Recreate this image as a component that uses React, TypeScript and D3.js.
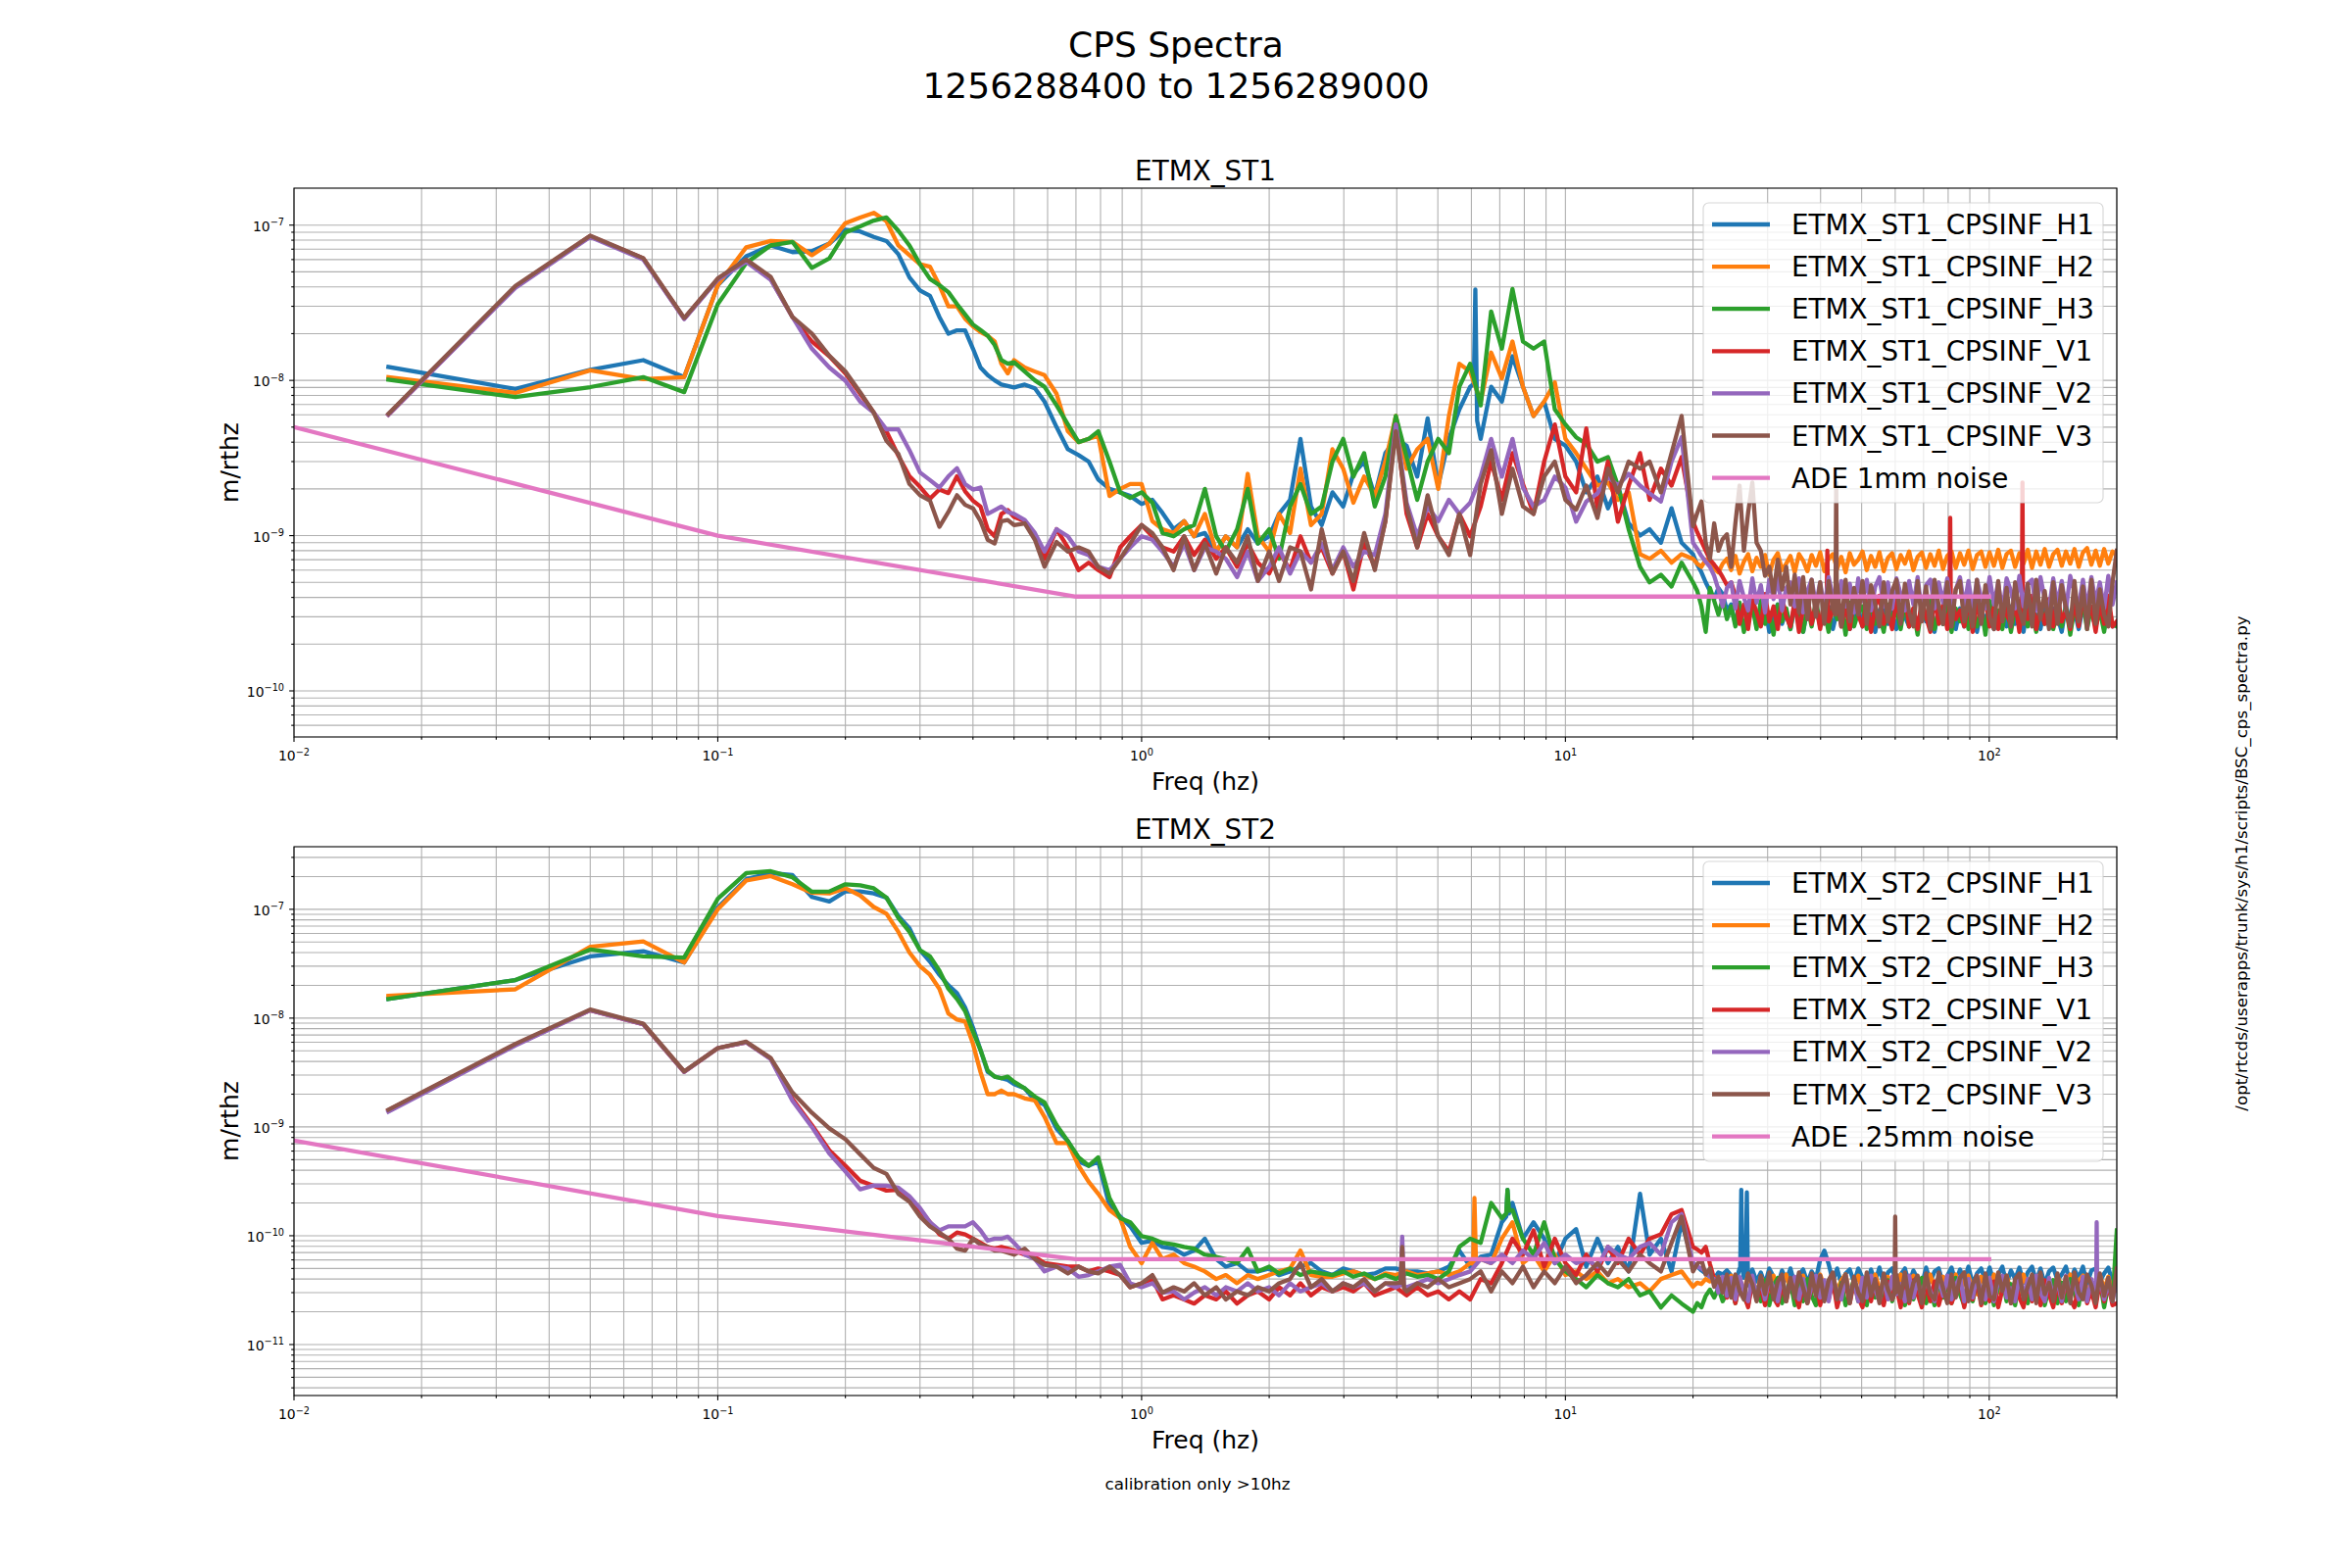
import React from 'react';
import * as d3 from 'd3';

// ---------------- DATA (values in units of 1e-10 m/rthz) ----------------
const UNIT = 1e-10;

const FREQ_LOW = [0.0167, 0.0333, 0.05, 0.0667, 0.0833, 0.1, 0.1167, 0.1333, 0.15, 0.1667,
  0.1833, 0.2, 0.2167, 0.2333, 0.25, 0.2667, 0.2833, 0.3, 0.3167, 0.3333,
  0.35, 0.3667, 0.3833, 0.4, 0.4167, 0.4333, 0.45, 0.4667, 0.4833, 0.5];
const FREQ_MID = [0.53, 0.56, 0.59, 0.63, 0.67, 0.71, 0.75, 0.79, 0.84, 0.89, 0.94];
const FREQ_HIGH = [1.0, 1.06, 1.12, 1.19, 1.26, 1.33, 1.41, 1.5, 1.58, 1.68, 1.78, 1.88,
  2.0, 2.11, 2.24, 2.37, 2.51, 2.66, 2.82, 2.99, 3.16, 3.35, 3.55, 3.76,
  3.98, 4.22, 4.47, 4.73, 5.01, 5.31, 5.62, 5.96, 6.31, 6.68, 7.08, 7.5,
  7.94, 8.41, 8.91, 9.44,
  10.0, 10.6, 11.2, 11.9, 12.6, 13.3, 14.1, 15.0, 15.8, 16.8, 17.8, 18.8];
const FREQ_BAND = [
  20.0, 20.47, 20.94, 21.43, 21.93, 22.44, 22.96, 23.5, 24.05, 24.61,
  25.18, 25.76, 26.37, 26.98, 27.61, 28.25, 28.91, 29.58, 30.27, 30.98,
  31.7, 32.44, 33.19, 33.96, 34.76, 35.57, 36.39, 37.24, 38.11, 39.0,
  39.91, 40.83, 41.79, 42.76, 43.76, 44.77, 45.82, 46.88, 47.98, 49.09,
  50.24, 51.41, 52.61, 53.83, 55.08, 56.37, 57.68, 59.02, 60.4, 61.81,
  63.25, 64.72, 66.23, 67.77, 69.35, 70.96, 72.62, 74.31, 76.04, 77.81,
  79.62, 81.48, 83.37, 85.32, 87.3, 89.34, 91.42, 93.55, 95.73, 97.96,
  100.2, 102.6, 105.0, 107.4, 109.9, 112.5, 115.1, 117.8, 120.5, 123.3,
  126.2, 129.1, 132.1, 135.2, 138.4, 141.6, 144.9, 148.3, 151.7, 155.3,
  158.9, 162.6, 166.4, 170.2, 174.2, 178.3, 182.4, 186.7, 191.0, 195.4,
  200];
const FREQ_SEGMENTS = [FREQ_LOW, FREQ_MID, FREQ_HIGH, FREQ_BAND];

// ---- ETMX_ST1 ----
const ST1_H1 = [
  [122, 88, 117, 135, 105, 410, 630, 740, 670, 680, 760, 935, 910, 840, 790, 650, 460, 380, 350, 256, 200, 210, 210, 160, 121, 108, 100, 94, 92, 90],
  [94, 89, 73, 50, 36, 33, 30, 23, 20, 19, 18],
  [16, 17, 14, 11, 12.4, 9.9, 10.4, 7.9, 9.9, 8.4, 11, 8.9,
   9.9, 13.8, 17, 42, 15.4, 11.7, 19, 15.4, 25, 30, 18, 34,
   42, 38, 24, 57, 21, 42, 65, 91, 42, 91, 73, 143,
   91, 59, 73, 42,
   38, 30, 19, 24, 15, 21, 12, 10, 11, 9, 15, 9],
  [7.6, 6.5, 5.8, 5.0, 4.4, 3.9, 4.6, 4.2, 3.3, 3.6,
   2.7, 3.4, 2.5, 3.1, 3.6, 2.6, 2.9, 3.5, 2.4, 3.2,
   3.6, 2.7, 3.3, 2.5, 3.5, 3.0, 2.4, 3.4, 2.8, 3.6,
   2.6, 3.2, 3.5, 2.5, 3.3, 2.7, 3.6, 2.5, 3.1, 3.4,
   2.6, 3.5, 2.9, 2.4, 3.3, 3.6, 2.7, 3.2, 2.5, 3.5,
   3.0, 2.6, 3.4, 2.5, 3.6, 2.8, 3.3, 2.4, 3.5, 2.7,
   3.2, 3.6, 2.5, 3.4, 2.6, 3.1, 3.5, 2.4, 3.3, 2.8,
   3.6, 2.5, 3.2, 3.4, 2.6, 3.5, 2.7, 3.3, 2.4, 3.6,
   2.8, 3.1, 2.5, 3.5, 2.6, 3.4, 3.0, 2.4, 3.6, 2.7,
   3.3, 2.5, 3.5, 2.9, 3.2, 2.6, 3.6, 2.5, 3.4, 2.6,
   2.7],
];
const ST1_H2 = [
  [105, 83, 116, 102, 105, 410, 720, 790, 780, 640, 760, 1030, 1120, 1200, 1060, 740, 640, 560, 540, 410, 300, 300, 250, 223, 205, 194, 178, 128, 111, 135],
  [121, 114, 108, 82, 47, 40, 42, 44, 18, 20, 21.5],
  [21.5, 12.4, 11, 10.4, 12.4, 9.9, 13.8, 7.9, 9.9, 8.4, 25, 9.9,
   7.9, 13.8, 10.4, 27, 11.7, 13.8, 36, 27, 16.3, 24, 18, 30,
   59, 27, 36, 42, 20, 59, 128, 114, 73, 151, 103, 178,
   91, 59, 73, 97,
   42, 34, 27, 21, 22, 17, 19, 7.6, 7.1, 8, 6.7, 7.6],
  [7.1, 6.6, 6.3, 7.0, 6.7, 6.1, 5.8, 6.6, 7.1, 6.0,
   7.4, 5.7, 6.8, 7.6, 5.9, 7.2, 6.3, 7.5, 5.6, 7.0,
   7.7, 6.0, 6.6, 7.4, 5.8, 7.6, 6.9, 5.9, 7.5, 6.4,
   7.8, 5.9, 7.1, 7.6, 6.1, 7.3, 5.8, 7.7, 6.5, 7.0,
   7.9, 6.0, 7.4, 6.3, 7.8, 5.9, 7.2, 7.7, 6.1, 7.5,
   6.6, 7.9, 6.0, 7.3, 7.8, 6.2, 7.6, 6.4, 8.0, 6.1,
   7.4, 7.9, 6.2, 7.7, 6.5, 8.0, 6.1, 7.5, 7.9, 6.3,
   7.8, 6.4, 8.1, 6.2, 7.6, 8.0, 6.3, 7.7, 6.6, 8.1,
   6.2, 7.9, 6.5, 8.2, 6.3, 7.6, 8.1, 6.4, 7.9, 6.6,
   8.2, 6.3, 7.8, 8.3, 6.5, 8.0, 6.4, 8.2, 6.6, 7.9,
   7.5],
];
const ST1_H3 = [
  [101, 78, 90.5, 105, 84, 310, 570, 740, 780, 530, 610, 895, 980, 1070, 1120, 920, 740, 560, 450, 410, 370, 310, 266, 229, 211, 194, 169, 135, 128, 131],
  [114, 100, 91, 69, 52, 40, 42, 47, 30, 19, 17.5],
  [19, 16.3, 10.4, 9.9, 11, 11.7, 20, 9.9, 7.9, 11, 20, 8.9,
   11, 7.1, 15.4, 21.5, 13.8, 15.4, 30, 42, 24, 34, 15.4, 24,
   59, 32, 17, 30, 42, 34, 91, 128, 69, 278, 160, 388,
   178, 160, 178, 65,
   52, 43, 39, 30, 32, 21, 11, 6.3, 5, 5.6, 4.7, 6.7],
  [5.0, 4.4, 3.5, 2.4, 4.6, 3.8, 3.1, 3.9, 2.9, 3.5,
   2.6, 3.7, 2.4, 3.3, 3.6, 2.5, 3.8, 2.7, 3.2, 2.3,
   3.6, 2.8, 3.4, 2.5, 3.7, 3.0, 2.4, 3.5, 2.6, 3.8,
   2.7, 3.3, 2.4, 3.6, 2.9, 3.5, 2.3, 3.7, 2.6, 3.2,
   3.5, 2.5, 3.8, 2.7, 3.1, 2.4, 3.6, 2.8, 3.4, 2.5,
   3.7, 2.6, 3.3, 2.3, 3.5, 2.9, 3.8, 2.5, 3.2, 2.7,
   3.6, 2.4, 3.4, 2.8, 3.7, 2.5, 3.1, 2.6, 3.5, 2.3,
   3.8, 2.7, 3.3, 2.5, 3.6, 2.4, 3.4, 2.9, 3.7, 2.6,
   3.2, 2.4, 3.5, 2.7, 3.8, 2.5, 3.3, 2.6, 3.6, 2.3,
   3.4, 2.8, 3.7, 2.5, 3.5, 2.6, 3.3, 2.4, 3.6, 2.7,
   2.6],
];
const ST1_V1 = [
  [60, 400, 850, 610, 250, 450, 590, 450, 256, 178, 143, 111, 82, 62, 47, 32.7, 24.1, 20.6, 17.3, 19.8, 18.8, 24.1, 19.3, 16.8, 15.4, 11, 9.9, 13.8, 14.6, 13.2],
  [12.4, 9.9, 7.1, 11, 8.4, 6.0, 6.7, 6.0, 5.4, 8.4, 9.9],
  [11.7, 9.9, 8.4, 7.9, 9.9, 7.5, 9.4, 7.1, 8.4, 6.3, 8.9, 6.7,
   5.7, 7.9, 6.0, 9.9, 6.7, 8.4, 5.7, 7.9, 4.5, 8.9, 6.3, 12.4,
   52, 13.8, 8.4, 13.8, 9.9, 7.9, 13.8, 9.9, 15.4, 30, 17, 34,
   21.5, 13.8, 30, 52,
   24, 19, 49, 15, 30, 12.3, 21, 34, 17, 27, 21, 32],
  [12.3, 10.5, 9.2, 8.0, 7.0, 6.5, 6.0, 5.4, 4.8, 5.0,
   4.1, 2.7, 3.6, 2.5, 3.9, 3.2, 2.6, 4.2, 2.8, 3.5,
   2.5, 4.0, 3.0, 2.6, 3.8, 2.4, 3.4, 4.1, 2.7, 3.6,
   2.5, 3.9, 2.8, 3.3, 4.2, 2.6, 3.7, 2.5, 4.0, 3.1,
   2.6, 3.8, 2.4, 3.5, 4.1, 2.7, 3.2, 2.5, 3.9, 2.8,
   4.2, 2.6, 3.4, 2.5, 3.8, 3.0, 2.4, 4.0, 2.7, 3.6,
   2.5, 4.1, 2.9, 3.3, 2.6, 3.9, 2.4, 3.7, 2.8, 4.2,
   2.6, 3.5, 2.5, 4.0, 3.1, 2.7, 3.8, 2.4, 3.6, 2.9,
   4.1, 2.5, 3.4, 2.7, 3.9, 2.6, 4.2, 2.8, 3.3, 2.5,
   3.8, 2.6, 4.0, 2.9, 3.5, 2.4, 3.7, 2.7, 4.1, 2.6,
   2.8],
];
const ST1_V2 = [
  [60, 395, 840, 600, 248, 445, 580, 445, 256, 160, 121, 99.5, 73, 62, 48.3, 48.3, 35.5, 25.5, 22.8, 20.4, 24.1, 27.2, 21.5, 19.8, 20.4, 13.8, 14.6, 15.4, 14.2, 13.8],
  [12.6, 10.4, 7.9, 11, 9.9, 7.9, 7.5, 6.3, 6.0, 7.1, 8.4],
  [9.9, 9.4, 7.9, 6.3, 8.9, 6.0, 8.4, 7.9, 7.1, 5.4, 7.9, 5.1,
   6.3, 8.4, 5.7, 7.9, 6.7, 8.9, 6.0, 8.4, 6.3, 7.9, 7.5, 13.8,
   52, 16.3, 9.9, 15.4, 12.4, 17, 13.8, 16.3, 24, 42, 24, 42,
   20.4, 15.4, 17, 24,
   20.4, 12.3, 16.6, 18.7, 24, 21, 25, 21, 18.7, 16.6, 30, 43],
  [9, 8.2, 7.4, 6.8, 6.3, 5.5, 4.5, 3.5, 4.6, 5.0,
   3.4, 5.1, 4.0, 3.3, 5.3, 3.7, 4.8, 3.2, 5.2, 3.9,
   5.4, 3.3, 4.6, 5.0, 3.5, 5.3, 3.2, 4.4, 5.2, 3.6,
   5.0, 3.4, 5.4, 4.1, 3.3, 5.1, 3.5, 4.9, 3.2, 5.3,
   3.8, 5.2, 3.3, 4.7, 5.4, 3.5, 5.0, 3.4, 5.3, 4.2,
   3.3, 5.1, 3.6, 5.4, 3.2, 4.8, 5.2, 3.4, 5.0, 3.7,
   5.3, 3.3, 4.5, 5.4, 3.5, 5.1, 3.3, 5.2, 4.0, 3.4,
   5.4, 3.6, 5.0, 3.2, 5.3, 4.4, 3.4, 5.5, 3.5, 4.9,
   5.2, 3.3, 5.4, 3.9, 3.4, 5.3, 3.6, 5.1, 3.3, 5.5,
   4.3, 3.5, 5.2, 3.3, 5.4, 3.7, 5.0, 3.4, 5.5, 3.6,
   5.0],
];
const ST1_V3 = [
  [61, 406, 856, 613, 252, 454, 600, 464, 256, 200, 144, 114, 84, 62, 40.8, 33.6, 21.5, 18.2, 16.8, 11.4, 14.2, 18.2, 15.8, 15, 12.4, 9.4, 8.9, 12.4, 12.6, 11.7],
  [12, 9.4, 6.3, 9.1, 7.9, 8.4, 7.9, 6.3, 5.7, 7.1, 8.9],
  [11.7, 10.4, 8.4, 6.0, 9.9, 6.0, 8.9, 5.7, 8.4, 6.7, 9.9, 5.1,
   7.9, 5.1, 8.4, 7.9, 4.5, 11, 5.7, 7.9, 5.1, 10.4, 6.0, 12.4,
   47, 15.4, 8.4, 18.2, 9.9, 7.5, 13.8, 7.5, 21.5, 35.5, 13.8, 27,
   15.4, 13.8, 24, 30,
   17, 14.7, 21, 13, 27, 19, 30, 27, 30, 19, 34, 59],
  [11.5, 14, 16.6, 9, 7.1, 12, 8, 9.5, 10.2, 6.3,
   12, 21, 8, 14, 22, 9, 8, 5.5, 6.3, 4.2,
   7.0, 4.5, 6.3, 3.6, 5.6, 3.2, 5.4, 2.9, 5.2, 3.0,
   5.0, 2.7, 5.1, 3.4, 4.9, 2.6, 5.2, 2.8, 4.6, 3.1,
   5.1, 2.7, 4.8, 3.6, 2.6, 5.0, 2.8, 4.4, 5.2, 2.7,
   4.9, 3.2, 2.6, 5.1, 2.8, 4.7, 2.5, 5.2, 3.5, 2.7,
   5.0, 2.6, 4.5, 5.1, 2.8, 3.9, 2.6, 5.2, 2.7, 4.8,
   3.0, 2.5, 5.1, 2.8, 4.6, 2.6, 5.0, 3.3, 2.7, 4.9,
   2.6, 5.2, 2.9, 4.4, 2.5, 5.0, 2.7, 4.8, 3.4, 2.6,
   5.1, 2.8, 4.7, 2.5, 5.2, 2.7, 4.5, 3.1, 2.6, 5.0,
   8.0],
];
const ST1_H1_SPIKES = [[6.08, 95], [6.13, 385], [6.19, 55]];
const ST1_V1_SPIKES = [[41.3, 3.0], [41.5, 8.0], [41.7, 3.0], [80.6, 3.3], [80.9, 13], [81.2, 3.1], [119.4, 3.4], [119.8, 22], [120.2, 3.0]];
const ST1_V3_SPIKES = [[43.35, 3.1], [43.55, 22], [43.7, 3.2]];

// ---- ETMX_ST2 ----
const ST2_H1 = [
  [150, 224, 369, 412, 324, 1040, 1890, 2150, 2060, 1300, 1180, 1460, 1460, 1400, 1280, 870, 670, 420, 330, 250, 200, 170, 125, 82, 51, 32, 29, 28, 27, 24.7],
  [22.6, 17.5, 16, 9.6, 7.4, 4.8, 4.4, 4.8, 1.87, 1.5, 1.22],
  [0.86, 0.9, 0.79, 0.76, 0.67, 0.73, 0.94, 0.61, 0.52, 0.56, 0.47, 0.47,
   0.5, 0.435, 0.47, 0.52, 0.56, 0.47, 0.435, 0.5, 0.47, 0.435, 0.45, 0.5,
   0.5, 0.47, 0.47, 0.45, 0.47, 0.52, 0.73, 0.52, 0.64, 0.67, 1.33, 2.0,
   0.94, 1.33, 0.94, 0.56,
   0.94, 1.15, 0.52, 0.94, 0.56, 0.79, 0.47, 2.43, 0.67, 0.94, 0.47, 1.33],
  [0.56, 0.52, 0.48, 0.45, 0.42, 0.4, 0.46, 0.44, 0.48, 0.43,
   0.37, 0.5, 0.41, 0.35, 0.49, 0.38, 0.46, 0.36, 0.5, 0.42,
   0.35, 0.48, 0.39, 0.5, 0.36, 0.44, 0.49, 0.37, 0.47, 0.4,
   0.6, 0.73, 0.55, 0.38, 0.5, 0.36, 0.45, 0.49, 0.37, 0.5,
   0.41, 0.35, 0.49, 0.38, 0.51, 0.36, 0.46, 0.5, 0.37, 0.44,
   0.5, 0.36, 0.48, 0.4, 0.35, 0.51, 0.38, 0.47, 0.5, 0.36,
   0.43, 0.51, 0.37, 0.49, 0.39, 0.52, 0.36, 0.45, 0.5, 0.38,
   0.51, 0.37, 0.44, 0.52, 0.36, 0.48, 0.4, 0.51, 0.37, 0.46,
   0.52, 0.38, 0.5, 0.36, 0.47, 0.51, 0.39, 0.44, 0.52, 0.37,
   0.49, 0.41, 0.52, 0.36, 0.48, 0.5, 0.38, 0.45, 0.51, 0.37,
   0.4],
];
const ST2_H2 = [
  [160, 184, 453, 507, 324, 1000, 1840, 2020, 1700, 1420, 1400, 1560, 1340, 1050, 910, 620, 400, 300, 250, 186, 110, 97, 93, 58, 32, 20, 20, 21.6, 20, 20],
  [18.3, 17.5, 12.4, 7.1, 7.1, 4.4, 3.13, 2.43, 1.72, 1.45, 0.79],
  [0.56, 0.86, 0.61, 0.67, 0.56, 0.52, 0.47, 0.4, 0.435, 0.366, 0.435, 0.4,
   0.435, 0.47, 0.5, 0.73, 0.435, 0.42, 0.42, 0.45, 0.47, 0.435, 0.4, 0.45,
   0.435, 0.47, 0.435, 0.45, 0.47, 0.435, 0.47, 0.56, 0.61, 0.56, 0.94, 1.33,
   0.56, 0.67, 0.47, 0.67,
   0.435, 0.47, 0.4, 0.47, 0.366, 0.4, 0.336, 0.366, 0.308, 0.4, 0.435, 0.47],
  [0.34, 0.37, 0.36, 0.4, 0.38, 0.42, 0.35, 0.41, 0.37, 0.43,
   0.31, 0.4, 0.3, 0.44, 0.33, 0.29, 0.42, 0.35, 0.31, 0.43,
   0.3, 0.38, 0.44, 0.31, 0.36, 0.29, 0.43, 0.32, 0.41, 0.3,
   0.44, 0.34, 0.3, 0.42, 0.31, 0.39, 0.44, 0.29, 0.36, 0.43,
   0.31, 0.4, 0.3, 0.44, 0.33, 0.29, 0.42, 0.35, 0.31, 0.44,
   0.3, 0.37, 0.43, 0.31, 0.4, 0.29, 0.44, 0.33, 0.3, 0.42,
   0.36, 0.31, 0.44, 0.3, 0.39, 0.43, 0.32, 0.29, 0.42, 0.35,
   0.31, 0.44, 0.3, 0.38, 0.43, 0.31, 0.36, 0.29, 0.44, 0.33,
   0.3, 0.41, 0.44, 0.31, 0.37, 0.29, 0.43, 0.34, 0.31, 0.44,
   0.3, 0.39, 0.43, 0.31, 0.36, 0.29, 0.44, 0.32, 0.42, 0.3,
   0.32],
];
const ST2_H3 = [
  [150, 224, 427, 369, 360, 1250, 2150, 2240, 1970, 1450, 1460, 1700, 1660, 1560, 1280, 835, 620, 420, 370, 273, 186, 150, 116, 75, 51, 33, 29, 28, 29, 26],
  [22.6, 19, 16.8, 10.4, 7.4, 5.25, 4.4, 5.25, 2.22, 1.45, 1.33],
  [0.99, 0.94, 0.86, 0.83, 0.79, 0.76, 0.67, 0.64, 0.61, 0.56, 0.76, 0.47,
   0.52, 0.45, 0.5, 0.435, 0.47, 0.45, 0.435, 0.47, 0.42, 0.45, 0.4, 0.435,
   0.4, 0.45, 0.42, 0.435, 0.4, 0.47, 0.79, 0.94, 0.86, 2.0, 1.45, 1.72,
   0.94, 0.67, 1.33, 0.61,
   0.47, 0.4, 0.336, 0.435, 0.366, 0.336, 0.4, 0.283, 0.308, 0.219, 0.283, 0.238],
  [0.2, 0.24, 0.22, 0.28, 0.32, 0.27, 0.33, 0.25, 0.3, 0.34,
   0.24, 0.38, 0.27, 0.23, 0.4, 0.3, 0.25, 0.39, 0.23, 0.35,
   0.41, 0.24, 0.31, 0.38, 0.23, 0.36, 0.25, 0.4, 0.28, 0.23,
   0.39, 0.26, 0.34, 0.41, 0.24, 0.37, 0.23, 0.29, 0.4, 0.25,
   0.36, 0.23, 0.41, 0.27, 0.33, 0.24, 0.39, 0.25, 0.38, 0.3,
   0.23, 0.4, 0.26, 0.35, 0.41, 0.24, 0.32, 0.23, 0.39, 0.27,
   0.37, 0.24, 0.41, 0.29, 0.23, 0.38, 0.25, 0.4, 0.31, 0.24,
   0.39, 0.23, 0.34, 0.41, 0.25, 0.36, 0.23, 0.4, 0.28, 0.24,
   0.38, 0.26, 0.41, 0.23, 0.33, 0.39, 0.24, 0.37, 0.25, 0.4,
   0.3, 0.23, 0.41, 0.26, 0.36, 0.24, 0.39, 0.22, 0.35, 0.25,
   1.12],
];
const ST2_V1 = [
  [14.2, 57, 118, 88, 32, 53, 60, 42.5, 18.1, 10.4, 6.1, 4.4, 3.2, 2.88, 2.6, 2.64, 2.1, 1.72, 1.33, 1.03, 0.94, 1.07, 1.03, 0.94, 0.86, 0.79, 0.76, 0.79, 0.76, 0.73],
  [0.67, 0.64, 0.56, 0.54, 0.52, 0.52, 0.47, 0.5, 0.47, 0.435, 0.336],
  [0.366, 0.4, 0.26, 0.283, 0.26, 0.238, 0.283, 0.26, 0.308, 0.238, 0.283, 0.308,
   0.26, 0.336, 0.283, 0.366, 0.283, 0.336, 0.308, 0.336, 0.308, 0.366, 0.283, 0.308,
   0.336, 0.283, 0.336, 0.283, 0.308, 0.26, 0.308, 0.26, 0.4, 0.366, 0.56, 0.94,
   0.67, 1.12, 0.52, 0.94,
   0.56, 0.435, 0.67, 0.47, 0.79, 0.56, 0.94, 0.67, 0.94, 1.03, 1.58, 1.72],
  [0.79, 0.75, 0.7, 0.79, 0.55, 0.4, 0.33, 0.38, 0.27, 0.36,
   0.24, 0.37, 0.29, 0.22, 0.38, 0.26, 0.34, 0.23, 0.39, 0.27,
   0.23, 0.36, 0.25, 0.39, 0.3, 0.22, 0.37, 0.24, 0.33, 0.38,
   0.23, 0.35, 0.26, 0.39, 0.22, 0.31, 0.37, 0.24, 0.38, 0.27,
   0.22, 0.36, 0.25, 0.39, 0.28, 0.23, 0.38, 0.26, 0.34, 0.22,
   0.37, 0.24, 0.39, 0.29, 0.22, 0.36, 0.25, 0.38, 0.23, 0.33,
   0.39, 0.24, 0.3, 0.37, 0.22, 0.36, 0.26, 0.39, 0.23, 0.35,
   0.25, 0.38, 0.22, 0.32, 0.39, 0.24, 0.37, 0.27, 0.22, 0.38,
   0.25, 0.36, 0.23, 0.39, 0.29, 0.22, 0.37, 0.24, 0.38, 0.26,
   0.22, 0.35, 0.39, 0.24, 0.31, 0.22, 0.38, 0.25, 0.36, 0.23,
   0.24],
];
const ST2_V2 = [
  [13.8, 56, 118, 88, 32, 53, 60, 42, 17.4, 10, 5.7, 3.9, 2.67, 2.9, 2.88, 2.77, 2.3, 1.8, 1.33, 1.12, 1.22, 1.22, 1.22, 1.33, 1.12, 0.9, 0.94, 0.94, 0.98, 0.86],
  [0.67, 0.61, 0.47, 0.52, 0.5, 0.42, 0.435, 0.47, 0.52, 0.54, 0.366],
  [0.336, 0.366, 0.3, 0.308, 0.26, 0.3, 0.336, 0.283, 0.336, 0.308, 0.366, 0.308,
   0.336, 0.283, 0.366, 0.308, 0.336, 0.366, 0.308, 0.366, 0.336, 0.366, 0.308, 0.366,
   0.336, 0.336, 0.366, 0.4, 0.366, 0.4, 0.435, 0.47, 0.61, 0.56, 0.67, 0.56,
   0.73, 0.61, 0.86, 0.56,
   0.67, 0.56, 0.61, 0.52, 0.79, 0.67, 0.61, 0.79, 0.86, 0.67, 1.33, 1.58],
  [0.56, 0.52, 0.5, 0.47, 0.42, 0.4, 0.3, 0.42, 0.28, 0.41,
   0.26, 0.42, 0.31, 0.25, 0.43, 0.28, 0.38, 0.26, 0.41, 0.33,
   0.25, 0.43, 0.27, 0.36, 0.42, 0.26, 0.4, 0.25, 0.34, 0.43,
   0.27, 0.39, 0.25, 0.42, 0.3, 0.26, 0.43, 0.28, 0.37, 0.25,
   0.41, 0.27, 0.43, 0.32, 0.25, 0.4, 0.26, 0.42, 0.29, 0.36,
   0.25, 0.43, 0.27, 0.39, 0.26, 0.42, 0.31, 0.25, 0.41, 0.28,
   0.43, 0.26, 0.35, 0.42, 0.25, 0.4, 0.27, 0.43, 0.3, 0.26,
   0.41, 0.25, 0.38, 0.43, 0.27, 0.33, 0.25, 0.42, 0.28, 0.4,
   0.26, 0.43, 0.3, 0.25, 0.41, 0.27, 0.39, 0.25, 0.43, 0.29,
   0.36, 0.26, 0.42, 0.25, 0.4, 0.28, 0.43, 0.26, 0.37, 0.25,
   0.4],
];
const ST2_V3 = [
  [14.4, 58, 120, 89, 32.4, 53, 60.7, 43, 20.7, 13.5, 9.7, 7.7, 5.6, 4.2, 3.7, 2.43, 2.05, 1.5, 1.22, 1.07, 0.94, 0.76, 0.73, 0.94, 0.83, 0.79, 0.73, 0.73, 0.7, 0.67],
  [0.76, 0.61, 0.54, 0.52, 0.45, 0.52, 0.47, 0.45, 0.52, 0.435, 0.336],
  [0.366, 0.435, 0.3, 0.336, 0.308, 0.366, 0.283, 0.336, 0.26, 0.308, 0.283, 0.336,
   0.308, 0.366, 0.4, 0.56, 0.336, 0.4, 0.308, 0.366, 0.336, 0.4, 0.308, 0.366,
   0.366, 0.308, 0.366, 0.336, 0.4, 0.336, 0.366, 0.4, 0.47, 0.308, 0.47, 0.366,
   0.52, 0.336, 0.47, 0.366,
   0.52, 0.366, 0.435, 0.56, 0.435, 0.61, 0.47, 0.67, 0.56, 0.47, 0.86, 1.5],
  [0.47, 0.55, 0.6, 0.44, 0.5, 0.34, 0.42, 0.3, 0.44, 0.27,
   0.44, 0.31, 0.26, 0.45, 0.36, 0.25, 0.43, 0.29, 0.46, 0.26,
   0.38, 0.44, 0.25, 0.41, 0.27, 0.46, 0.33, 0.24, 0.45, 0.28,
   0.43, 0.25, 0.39, 0.46, 0.26, 0.35, 0.44, 0.24, 0.42, 0.3,
   0.25, 0.46, 0.28, 0.4, 0.24, 0.45, 0.32, 0.26, 0.44, 0.27,
   0.46, 0.25, 0.37, 0.43, 0.24, 0.45, 0.29, 0.26, 0.46, 0.33,
   0.24, 0.44, 0.27, 0.41, 0.46, 0.25, 0.36, 0.43, 0.24, 0.45,
   0.28, 0.26, 0.46, 0.31, 0.43, 0.24, 0.4, 0.45, 0.26, 0.34,
   0.44, 0.24, 0.46, 0.29, 0.37, 0.25, 0.45, 0.27, 0.42, 0.24,
   0.46, 0.3, 0.26, 0.44, 0.35, 0.24, 0.45, 0.28, 0.41, 0.25,
   0.5],
];
const ST2_H1_SPIKES = [[7.25, 1.5], [7.3, 2.64], [7.36, 1.6], [25.85, 0.5], [26.0, 2.64], [26.15, 0.5], [26.6, 0.45], [26.8, 2.5], [26.95, 0.45]];
const ST2_H2_SPIKES = [[6.06, 0.55], [6.1, 2.22], [6.15, 0.58]];
const ST2_H3_SPIKES = [[7.25, 1.6], [7.3, 2.64], [7.36, 1.7]];
const ST2_V2_SPIKES = [[4.08, 0.35], [4.12, 0.98], [4.16, 0.34], [178.8, 0.3], [179.3, 1.33], [179.8, 0.3]];
const ST2_V3_SPIKES = [[4.08, 0.37], [4.12, 0.79], [4.16, 0.33], [59.8, 0.3], [60.0, 1.5], [60.2, 0.3]];

// ---- ADE noise references ----
const ADE_FREQ = [0.01, 0.1, 0.7, 100];
const ADE_1MM = [50, 10, 4.05, 4.05];
const ADE_025MM = [7.5, 1.52, 0.61, 0.61];

const CHANNELS = ['H1', 'H2', 'H3', 'V1', 'V2', 'V3'];
const COLORS = ['#1f77b4', '#ff7f0e', '#2ca02c', '#d62728', '#9467bd', '#8c564b', '#e377c2'];

// ---------------- LAYOUT ----------------
const FONT = '"DejaVu Sans", sans-serif';
const AX_LEFT = 300;
const AX_RIGHT = 2160;
const AX_H = 560;
const X_DOMAIN: [number, number] = [0.01, 200];
const LW = 4.3;
const GRID = '#b0b0b0';

type Pt = [number, number];

function buildSeries(segs: number[][], spikes: number[][]): Pt[] {
  const pts: Pt[] = [];
  FREQ_SEGMENTS.forEach((fs, i) => {
    const vs = segs[i] || [];
    const n = Math.min(fs.length, vs.length);
    for (let j = 0; j < n; j++) pts.push([fs[j], vs[j] * UNIT]);
  });
  spikes.forEach((s) => pts.push([s[0], s[1] * UNIT]));
  pts.sort((a, b) => a[0] - b[0]);
  return pts;
}

function supStr(e: number) {
  return e < 0 ? '\u2212' + Math.abs(e) : String(e);
}

interface PanelProps {
  id: string;
  top: number;
  title: string;
  prefix: string;
  yDomain: [number, number];
  data: number[][][];
  spikes: number[][][];
  ade: number[];
  adeLabel: string;
}

function Panel(p: PanelProps) {
  const bottom = p.top + AX_H;
  const x = d3.scaleLog().domain(X_DOMAIN).range([AX_LEFT, AX_RIGHT]);
  const y = d3.scaleLog().domain(p.yDomain).range([bottom, p.top]);
  const line = d3.line<Pt>().x((d) => x(d[0])).y((d) => y(d[1]));

  const xMajor: number[] = [];
  const xMinor: number[] = [];
  for (let e = -2; e <= 2; e++) {
    for (let m = 1; m <= 9; m++) {
      const v = m * Math.pow(10, e);
      if (v < X_DOMAIN[0] * 0.999 || v > X_DOMAIN[1] * 1.001) continue;
      (m === 1 ? xMajor : xMinor).push(v);
    }
  }
  const yMajor: number[] = [];
  const yMinor: number[] = [];
  const e0 = Math.floor(Math.log10(p.yDomain[0]));
  const e1 = Math.ceil(Math.log10(p.yDomain[1]));
  for (let e = e0; e <= e1; e++) {
    for (let m = 1; m <= 9; m++) {
      const v = m * Math.pow(10, e);
      if (v < p.yDomain[0] || v > p.yDomain[1]) continue;
      (m === 1 ? yMajor : yMinor).push(v);
    }
  }

  const series = CHANNELS.map((c, i) => ({
    label: `ETMX_${p.prefix}_CPSINF_${c}`,
    color: COLORS[i],
    pts: buildSeries(p.data[i], p.spikes[i]),
  }));
  const adePts: Pt[] = ADE_FREQ.map((f, i) => [f, p.ade[i] * UNIT]);
  const legendItems = [...series.map((s) => ({ label: s.label, color: s.color })), { label: p.adeLabel, color: COLORS[6] }];

  const legW = 408;
  const legH = 306;
  const legX = AX_RIGHT - 14 - legW;
  const legY = p.top + 15;
  const tickFs = 13.9;

  return (
    <g>
      <defs>
        <clipPath id={p.id}>
          <rect x={AX_LEFT} y={p.top} width={AX_RIGHT - AX_LEFT} height={AX_H} />
        </clipPath>
      </defs>
      <g stroke={GRID} strokeWidth={1.1}>
        {[...xMajor, ...xMinor].map((v, i) => (
          <line key={'gx' + i} x1={x(v)} x2={x(v)} y1={p.top} y2={bottom} />
        ))}
        {[...yMajor, ...yMinor].map((v, i) => (
          <line key={'gy' + i} x1={AX_LEFT} x2={AX_RIGHT} y1={y(v)} y2={y(v)} />
        ))}
      </g>
      <g clipPath={`url(#${p.id})`} fill="none" strokeWidth={LW} strokeLinejoin="round" strokeLinecap="square">
        {series.map((s, i) => (
          <path key={'s' + i} d={line(s.pts) || ''} stroke={s.color} />
        ))}
        <path d={line(adePts) || ''} stroke={COLORS[6]} />
      </g>
      <rect x={AX_LEFT} y={p.top} width={AX_RIGHT - AX_LEFT} height={AX_H} fill="none" stroke="#000" strokeWidth={1.1} />
      <g stroke="#000" strokeWidth={1.1}>
        {xMajor.map((v, i) => (
          <line key={'tx' + i} x1={x(v)} x2={x(v)} y1={bottom} y2={bottom + 4.9} />
        ))}
        {xMinor.map((v, i) => (
          <line key={'tmx' + i} x1={x(v)} x2={x(v)} y1={bottom} y2={bottom + 2.8} />
        ))}
        {yMajor.map((v, i) => (
          <line key={'ty' + i} x1={AX_LEFT - 4.9} x2={AX_LEFT} y1={y(v)} y2={y(v)} />
        ))}
        {yMinor.map((v, i) => (
          <line key={'tmy' + i} x1={AX_LEFT - 2.8} x2={AX_LEFT} y1={y(v)} y2={y(v)} />
        ))}
      </g>
      <g fontFamily={FONT} fill="#000">
        {xMajor.map((v, i) => (
          <text key={'lx' + i} x={x(v)} y={bottom + 24} textAnchor="middle" fontSize={tickFs}>
            <tspan>10</tspan>
            <tspan dy={-5.3} fontSize={tickFs * 0.7}>{supStr(Math.round(Math.log10(v)))}</tspan>
          </text>
        ))}
        {yMajor.map((v, i) => (
          <text key={'ly' + i} x={AX_LEFT - 10} y={y(v) + 6} textAnchor="end" fontSize={tickFs}>
            <tspan>10</tspan>
            <tspan dy={-5.6} fontSize={tickFs * 0.7}>{supStr(Math.round(Math.log10(v)))}</tspan>
          </text>
        ))}
      </g>
      <text x={(AX_LEFT + AX_RIGHT) / 2} y={p.top - 8.3} textAnchor="middle" fontFamily={FONT} fontSize={27.8}>{p.title}</text>
      <text x={(AX_LEFT + AX_RIGHT) / 2} y={bottom + 54} textAnchor="middle" fontFamily={FONT} fontSize={25}>Freq (hz)</text>
      <text transform={`translate(243,${p.top + AX_H / 2}) rotate(-90)`} textAnchor="middle" fontFamily={FONT} fontSize={25}>m/rthz</text>
      <g>
        <rect x={legX} y={legY} width={legW} height={legH} rx={5.6} ry={5.6} fill="#fff" fillOpacity={0.8} stroke="#cccccc" strokeOpacity={0.8} strokeWidth={1.1} />
        {legendItems.map((it, i) => {
          const cy = legY + 22 + i * 43.1;
          return (
            <g key={'lg' + i}>
              <line x1={legX + 9} x2={legX + 68} y1={cy} y2={cy} stroke={it.color} strokeWidth={LW} strokeLinecap="butt" />
              <text x={legX + 90} y={cy + 10} fontFamily={FONT} fontSize={27.8}>{it.label}</text>
            </g>
          );
        })}
      </g>
    </g>
  );
}

export default function App() {
  return (
    <div style={{ position: 'absolute', left: 0, top: 0, width: 2400, height: 1600, background: '#fff' }}>
      <svg width={2400} height={1600} viewBox="0 0 2400 1600" style={{ display: 'block' }}>
        <rect x={0} y={0} width={2400} height={1600} fill="#fff" />
        <text x={1200} y={58} textAnchor="middle" fontFamily={FONT} fontSize={36}>CPS Spectra</text>
        <text x={1200} y={99.5} textAnchor="middle" fontFamily={FONT} fontSize={36}>1256288400 to 1256289000</text>
        <Panel
          id="clip-st1"
          top={192}
          title="ETMX_ST1"
          prefix="ST1"
          yDomain={[5.05e-11, 1.73e-7]}
          data={[ST1_H1, ST1_H2, ST1_H3, ST1_V1, ST1_V2, ST1_V3]}
          spikes={[ST1_H1_SPIKES, [], [], ST1_V1_SPIKES, [], ST1_V3_SPIKES]}
          ade={ADE_1MM}
          adeLabel="ADE 1mm noise"
        />
        <Panel
          id="clip-st2"
          top={864}
          title="ETMX_ST2"
          prefix="ST2"
          yDomain={[3.4e-12, 3.76e-7]}
          data={[ST2_H1, ST2_H2, ST2_H3, ST2_V1, ST2_V2, ST2_V3]}
          spikes={[ST2_H1_SPIKES, ST2_H2_SPIKES, ST2_H3_SPIKES, [], ST2_V2_SPIKES, ST2_V3_SPIKES]}
          ade={ADE_025MM}
          adeLabel="ADE .25mm noise"
        />
        <text x={1222} y={1520} textAnchor="middle" fontFamily={FONT} fontSize={16.7}>calibration only &gt;10hz</text>
        <text transform="translate(2293,881) rotate(-90)" textAnchor="middle" fontFamily={FONT} fontSize={16.7}>/opt/rtcds/userapps/trunk/sys/h1/scripts/BSC_cps_spectra.py</text>
      </svg>
    </div>
  );
}
